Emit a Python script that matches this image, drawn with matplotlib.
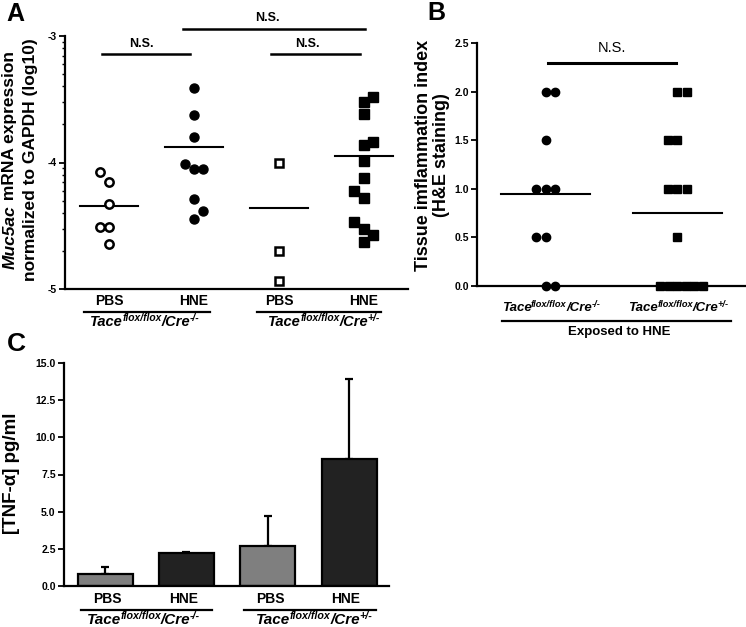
import numpy as np
import matplotlib
matplotlib.use("Agg")
import matplotlib.pyplot as plt

plt.rcParams['font.family'] = ['Liberation Sans', 'DejaVu Sans']
plt.rcParams['font.weight'] = 'bold'

# ---- panel A : Muc5ac expression (log10 values)
a_groups = ["PBS", "HNE", "PBS", "HNE"]
a_pbs_ko = [-4.079, -4.158, -4.332, -4.506, -4.506, -4.648]
a_hne_ko = [-3.413, -3.623, -3.800, -4.013, -4.055, -4.055, -4.290, -4.385, -4.445]
a_pbs_het = [-4.000, -4.703, -4.933]
a_hne_het = [-3.484, -3.523, -3.615, -3.840, -3.858, -3.992, -4.119, -4.227,
             -4.282, -4.472, -4.524, -4.572, -4.630]
a_means = [-4.34, -3.879, -4.358, -3.945]

# ---- panel B : tissue inflammation index
b_ko = [2.0, 2.0, 1.5, 1.0, 1.0, 1.0, 0.5, 0.5, 0.0, 0.0]
b_het = [2.0, 2.0, 1.5, 1.5, 1.0, 1.0, 1.0, 0.5, 0.0, 0.0, 0.0, 0.0, 0.0, 0.0]
b_means = [0.95, 0.75]

# ---- panel C : TNF-alpha
c_groups = ["PBS", "HNE", "PBS", "HNE"]
c_mean = [0.78, 2.18, 2.68, 8.56]
c_err = [0.45, 0.07, 2.02, 5.36]
c_colors = ["#7f7f7f", "#222222", "#7f7f7f", "#222222"]

geno_sup = ["-/-", "+/-"]

# jitter layout (in units of one marker step)
a_jit = [[-1, 0, 0, -1, 0, 0],
         [0, 0, 0, -1, 0, 1, 0, 1, 0],
         [0, 0, 0],
         [1, 0, 0, 1, 0, 0, 0, -1, 0, -1, 0, 1, 0]]
b_jit = [[0, 1, 0, -1, 0, 1, -1, 0, 0, 1],
         [0, 1, -1, 0, -1, 0, 1, 0, -1.8, -0.9, 0, 0.9, 1.8, 2.7]]

W, H = 746, 627
fig = plt.figure(figsize=(W / 100, H / 100), dpi=100)
renderer = fig.canvas.get_renderer()


def box(l, t, r, b):
    return [l / W, 1 - b / H, (r - l) / W, (b - t) / H]


def style(ax, lsize=7.5):
    for s in ['top', 'right']:
        ax.spines[s].set_visible(False)
    for s in ['left', 'bottom']:
        ax.spines[s].set_linewidth(1.6)
    ax.tick_params(axis='x', length=0, labelbottom=False)
    ax.tick_params(axis='y', width=1.3, length=4, labelsize=lsize, pad=2)


def text_width(s, fs, **kw):
    t = fig.text(0, 0, s, fontsize=fs, **kw)
    w = t.get_window_extent(renderer).width
    t.remove()
    return w


def geno(ax, xd, yb, sup, fs):
    # Tace^{flox/flox}/Cre^{sup}, centred on xd, baseline at yb (axes fraction)
    parts = [("Tace", fs, 0), ("flox/flox", fs * 0.7, 1),
             ("/Cre", fs, 0), (sup, fs * 0.7, 1)]
    widths = [text_width(s, f, style='italic', fontweight='bold') for s, f, _ in parts]
    dx = -sum(widths) / 2
    raise_px = 0.33 * fs * 100 / 72
    for (s, f, up), w in zip(parts, widths):
        ax.annotate(s, xy=(xd, yb), xycoords=ax.get_xaxis_transform(),
                    xytext=(dx, up * raise_px), textcoords='offset pixels',
                    fontsize=f, style='italic', fontweight='bold',
                    ha='left', va='baseline', annotation_clip=False)
        dx += w - 0.5


# ================= A
axA = fig.add_axes(box(65, 36, 408, 289))
style(axA)
axA.set_xlim(-0.518, 3.52)
axA.set_ylim(-5, -3)
axA.set_yticks([-5, -4, -3])
axA.set_yticklabels(["-5", "-4", "-3"], fontsize=7.5)
minor = [n + np.log10(k) for n in (-5, -4) for k in range(2, 10)]
axA.set_yticks(minor, minor=True)
axA.tick_params(axis='y', which='minor', width=1.0, length=2.5)

step = 0.11
sets = [a_pbs_ko, a_hne_ko, a_pbs_het, a_hne_het]
mk = [dict(marker='o', mfc='white', mec='black', mew=1.8, ms=6),
      dict(marker='o', mfc='black', mec='black', ms=6.5),
      dict(marker='s', mfc='white', mec='black', mew=1.8, ms=6),
      dict(marker='s', mfc='black', mec='black', ms=6.5)]
for i, vals in enumerate(sets):
    xs = [i + j * step for j in a_jit[i]]
    axA.plot(xs, vals, ls='none', **mk[i], zorder=3)
    axA.plot([i - 0.34, i + 0.34], [a_means[i]] * 2, color='black', lw=1.5)

tA = axA.get_xaxis_transform()
for i, g in enumerate(a_groups):
    axA.text(i, -0.047, g, transform=tA, ha='center', va='center', fontsize=10)
for (x0, x1), xc, sup in zip([(-0.29, 1.19), (1.74, 3.20)], [0.43, 2.54], geno_sup):
    axA.plot([x0, x1], [-0.091, -0.091], transform=tA, color='black', lw=1.6, clip_on=False)
    geno(axA, xc, -0.146, sup, 10.5)
# significance bars
for (x0, x1), yb, xt, yt in [((-0.08, 0.95), 0.929, 0.38, 0.968),
                            ((1.91, 2.96), 0.929, 2.34, 0.968),
                            ((0.87, 3.01), 1.028, 1.87, 1.071)]:
    axA.plot([x0, x1], [yb, yb], transform=tA, color='black', lw=1.8, clip_on=False)
    axA.text(xt, yt, "N.S.", transform=tA, ha='center', va='center', fontsize=9)

# y label: first line with italic gene name
l1a, l1b = "Muc5ac", " mRNA expression"
wa = text_width(l1a, 12.5, style='italic')
wb = text_width(l1b, 12.5)
ybot = 160 + (wa + wb) / 2
fig.text(10 / W, 1 - ybot / H, l1a, rotation=90, ha='center', va='bottom',
         fontsize=12.5, style='italic')
fig.text(10 / W, 1 - (ybot - wa) / H, l1b, rotation=90, ha='center', va='bottom',
         fontsize=12.5)
fig.text(31 / W, 1 - 160 / H, "normalized to GAPDH (log10)", rotation=90,
         ha='center', va='center', fontsize=12.5)
fig.text(15 / W, 1 - 14 / H, "A", fontsize=18, ha='center', va='center')

# ================= B
axB = fig.add_axes(box(477, 43.3, 745, 285.7))
style(axB)
axB.set_xlim(-0.523, 1.515)
axB.set_ylim(0, 2.5)
axB.set_yticks(np.arange(0, 2.51, 0.5))
axB.set_yticklabels(["0.0", "0.5", "1.0", "1.5", "2.0", "2.5"])
bstep = 0.072
axB.plot([j * bstep for j in b_jit[0]], b_ko, ls='none', marker='o',
         color='black', ms=6, clip_on=False, zorder=4)
axB.plot([1 + j * bstep for j in b_jit[1]], b_het, ls='none', marker='s',
         color='black', ms=6, clip_on=False, zorder=4)
for i, m in enumerate(b_means):
    axB.plot([i - 0.34, i + 0.34], [m, m], color='black', lw=1.5)
tB = axB.get_xaxis_transform()
axB.plot([0.02, 0.99], [0.917, 0.917], transform=tB, color='black', lw=2.2, clip_on=False)
axB.text(0.5, 0.98, "N.S.", transform=tB, ha='center', va='center',
         fontsize=10.5, fontweight='normal')
for xc, sup in zip([0.045, 1.015], geno_sup):
    geno(axB, xc, -0.106, sup, 9.5)
axB.plot([-0.33, 1.41], [-0.146, -0.146], transform=tB, color='black', lw=1.6, clip_on=False)
axB.text(0.56, -0.192, "Exposed to HNE", transform=tB, ha='center', va='center', fontsize=9.5)
fig.text(423 / W, 1 - 155 / H, "Tissue imflammation index", rotation=90,
         ha='center', va='center', fontsize=13)
fig.text(442 / W, 1 - 155 / H, "(H&E staining)", rotation=90,
         ha='center', va='center', fontsize=13)
fig.text(436 / W, 1 - 13 / H, "B", fontsize=18, ha='center', va='center')

# ================= C
axC = fig.add_axes(box(64, 363.3, 389, 585.7))
style(axC)
axC.set_xlim(-0.504, 3.49)
axC.set_ylim(0, 15)
axC.set_yticks(np.arange(0, 15.1, 2.5))
axC.set_yticklabels(["0.0", "2.5", "5.0", "7.5", "10.0", "12.5", "15.0"])
xC = np.arange(len(c_mean))
axC.bar(xC, c_mean, width=0.676, color=c_colors, edgecolor='black', linewidth=1.6, zorder=2)
axC.errorbar(xC, c_mean, yerr=[np.zeros(len(c_err)), c_err], fmt='none',
             ecolor='black', elinewidth=1.6, capsize=3, capthick=1.6, zorder=1)
tC = axC.get_xaxis_transform()
for i, g in enumerate(c_groups):
    axC.text(i + (0.03 if i % 2 == 0 else -0.04), -0.06, g, transform=tC,
             ha='center', va='center', fontsize=10)
for (x0, x1), xc, sup in zip([(-0.30, 1.32), (1.71, 3.33)], [0.48, 2.58], geno_sup):
    axC.plot([x0, x1], [-0.109, -0.109], transform=tC, color='black', lw=1.6, clip_on=False)
    geno(axC, xc, -0.174, sup, 11)
fig.text(12 / W, 1 - 473 / H, "[TNF-α] pg/ml", rotation=90, ha='center', va='center',
         fontsize=13.5)
fig.text(16 / W, 1 - 344 / H, "C", fontsize=19, ha='center', va='center')

fig.savefig("out.png", dpi=100)
